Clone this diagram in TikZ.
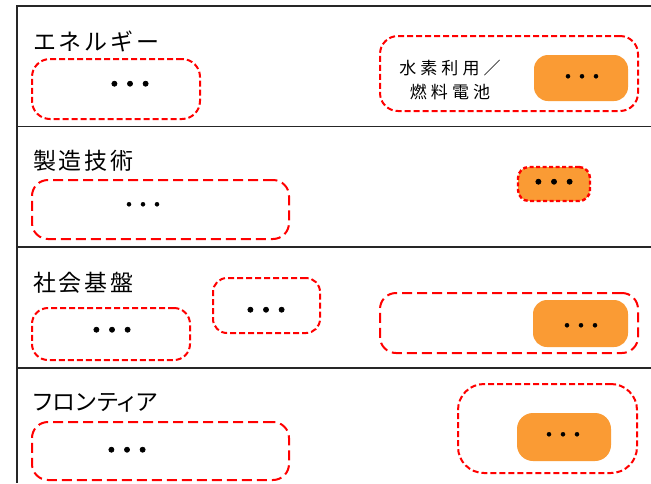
\documentclass[tikz,border=0pt]{standalone}
\usepackage{fontspec}
\setmainfont{Noto Sans CJK JP}
\newfontfamily\jptitle{Noto Sans CJK JP}[LetterSpace=12]
\newfontfamily\jptitlep{Noto Sans CJK JP}[LetterSpace=3,RawFeature=+palt]
\newfontfamily\jpsub{Noto Sans CJK JP}[LetterSpace=24]
\newfontfamily\jpdotb{Noto Sans CJK JP}[FakeBold=3,LetterSpace=-35]
\newfontfamily\jpdots{Noto Sans CJK JP}[FakeBold=1,LetterSpace=-30]
\definecolor{boxorange}{RGB}{250,155,52}
\definecolor{boxred}{RGB}{255,0,0}
\tikzset{
  frameline/.style={line width=1.6pt, draw=black!85},
  redbox/.style={draw=boxred, line width=2pt, dash pattern=on 6pt off 3pt, rounded corners=16pt, inner sep=0pt},
  longredbox/.style={redbox, dash pattern=on 10pt off 5pt},
  orangebox/.style={fill=boxorange, rounded corners=14pt, inner sep=0pt},
  dottedorange/.style={fill=boxorange, draw=boxred, line width=2.4pt, dash pattern=on 4pt off 2.5pt, rounded corners=11pt, inner sep=0pt},
  titletext/.style={anchor=west, inner sep=0pt, font=\jptitle\fontsize{23}{26}\selectfont},
  subtext/.style={inner sep=0pt, align=center, font=\jpsub\fontsize{17}{24}\selectfont},
  dotsbig/.style={inner sep=0pt, font=\jpdotb\fontsize{24}{26}\selectfont},
  dotssmall/.style={inner sep=0pt, font=\jpdots\fontsize{20}{22}\selectfont},
}
\begin{document}
\begin{tikzpicture}[x=1pt,y=-1pt]
\useasboundingbox[fill=white] (0,0) rectangle (651,483);
% frame
\draw[frameline] (651,6) -- (17,6) -- (17,483);
\draw[frameline] (17,126.5) -- (651,126.5);
\draw[frameline] (17,247) -- (651,247);
\draw[frameline] (17,368) -- (651,368);

% Section 1
\node[titletext] (t1) at (33,41) {エネルギー};
\node[redbox, minimum width=168pt, minimum height=60pt, rounded corners=18pt] (b1a) at (116,89) {};
\node[dotsbig] (d1a) at (130,87) {・・・};
\node[redbox, minimum width=258pt, minimum height=75pt, rounded corners=18pt] (b1b) at (509,73.5) {};
\node[subtext] (s1) at (450,80) {水素利用／\\燃料電池};
\node[orangebox, minimum width=94pt, minimum height=46pt] (o1) at (581,78) {};
\node[dotssmall] (d1b) at (582,79) {・・・};

% Section 2
\node[titletext] (t2) at (33,161) {製造技術};
\node[longredbox, minimum width=257pt, minimum height=59pt] (b2a) at (160.5,209.5) {};
\node[dotssmall] (d2a) at (143,207) {・・・};
\node[dottedorange, minimum width=72pt, minimum height=34pt] (o2) at (554,184) {};
\node[dotsbig] (d2b) at (554,185) {・・・};

% Section 3
\node[titletext] (t3) at (33,283) {社会基盤};
\node[redbox, minimum width=158pt, minimum height=52pt] (b3a) at (111,334) {};
\node[dotsbig] (d3a) at (112,333) {・・・};
\node[redbox, minimum width=107pt, minimum height=55pt, rounded corners=14pt] (b3b) at (266.5,305.5) {};
\node[dotsbig] (d3b) at (266,313) {・・・};
\node[longredbox, minimum width=258pt, minimum height=60pt] (b3c) at (509,323) {};
\node[orangebox, minimum width=95pt, minimum height=47pt] (o3) at (580.5,323.5) {};
\node[dotssmall] (d3c) at (581,328) {・・・};

% Section 4
\node[titletext, font=\jptitlep\fontsize{23}{26}\selectfont] (t4) at (33,403) {フロンティア};
\node[longredbox, minimum width=257pt, minimum height=58pt] (b4a) at (160.5,451) {};
\node[dotsbig] (d4a) at (127,453) {・・・};
\node[redbox, minimum width=179pt, minimum height=89pt, rounded corners=26pt] (b4b) at (547.5,428.5) {};
\node[orangebox, minimum width=94pt, minimum height=48pt, rounded corners=16pt] (o4) at (564,437) {};
\node[dotssmall] (d4b) at (563,437) {・・・};
\end{tikzpicture}
\end{document}
